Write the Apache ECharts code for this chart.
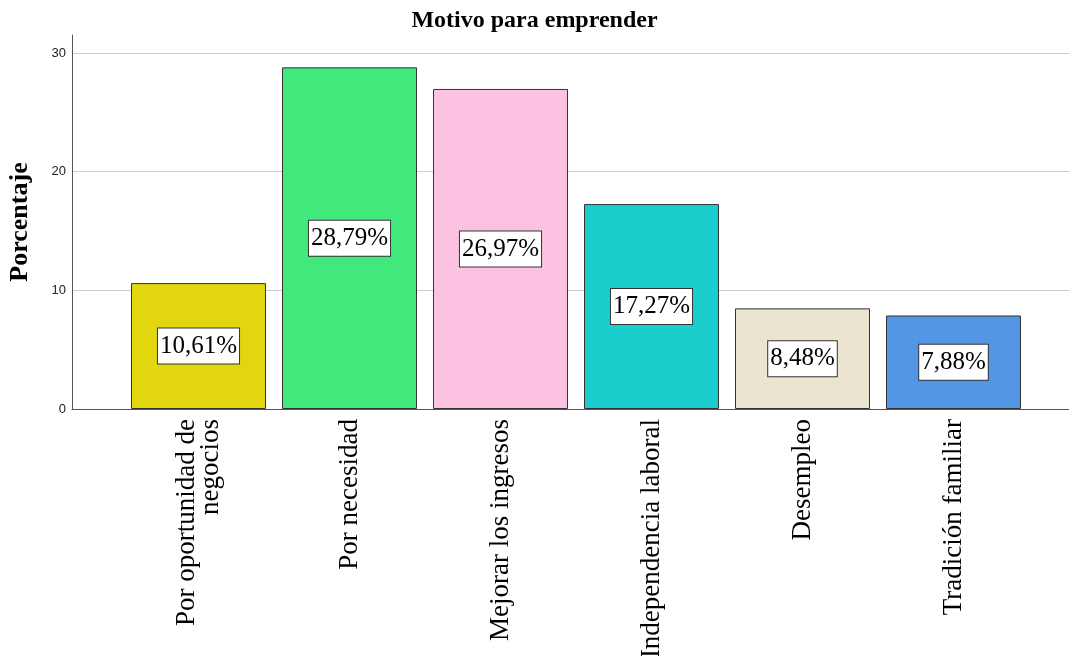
<!DOCTYPE html>
<html>
<head>
<meta charset="utf-8">
<script src="https://cdn.jsdelivr.net/npm/echarts@6/dist/echarts.min.js"></script>
<style>
  html, body { margin: 0; padding: 0; background: #fff; }
  #chart { width: 1069px; height: 656px; }
</style>
</head>
<body>
<div id="chart"></div>
<script>
// datos
const categorias = [
  "Por oportunidad de\nnegocios",
  "Por necesidad",
  "Mejorar los ingresos",
  "Independencia laboral",
  "Desempleo",
  "Tradición familiar"
];
const porcentajes = [10.61, 28.79, 26.97, 17.27, 8.48, 7.88];
const colores = ["#e2d60e", "#41e97d", "#fcc2e1", "#1ccdcd", "#ebe4d0", "#5396e4"];
const ticksY = [0, 10, 20, 30];

const serif = "'Liberation Serif', 'Times New Roman', serif";

var myChart = echarts.init(document.getElementById("chart"));

var option = {
  animation: false,
  backgroundColor: "#ffffff",
  title: {
    text: "Motivo para emprender",
    left: "center",
    top: 4,
    textStyle: {
      fontFamily: serif,
      fontWeight: "bold",
      fontSize: 24,
      color: "#000"
    }
  },
  grid: [
    // solo la linea del eje Y (sube un poco por encima del 30)
    { left: 72, right: 0, top: 35, bottom: 247, outerBoundsMode: "none" },
    // lineas de referencia y etiquetas
    { left: 72, right: 0, top: 53, bottom: 247, outerBoundsMode: "none" },
    // barras
    { left: 123, right: 40, top: 53, bottom: 247, outerBoundsMode: "none" }
  ],
  xAxis: [
    { gridIndex: 0, type: "value", show: false },
    {
      gridIndex: 1,
      type: "value",
      min: 0,
      max: 1,
      axisLine: { show: true, lineStyle: { color: "#555", width: 1 } },
      axisTick: { show: false },
      axisLabel: { show: false },
      splitLine: { show: false }
    },
    {
      gridIndex: 2,
      type: "category",
      data: categorias,
      axisLine: { show: false },
      axisTick: { show: false },
      axisLabel: {
        interval: 0,
        rotate: 90,
        margin: 10,
        fontFamily: serif,
        fontSize: 27,
        lineHeight: 24,
        color: "#000"
      }
    }
  ],
  yAxis: [
    {
      gridIndex: 0,
      type: "value",
      min: 0,
      max: 1,
      name: "Porcentaje",
      nameLocation: "middle",
      nameRotate: 90,
      nameGap: 39,
      nameTextStyle: {
        fontFamily: serif,
        fontWeight: "bold",
        fontSize: 26,
        color: "#000"
      },
      axisLine: { show: true, lineStyle: { color: "#555", width: 1 } },
      axisTick: { show: false },
      axisLabel: { show: false },
      splitLine: { show: false }
    },
    {
      gridIndex: 1,
      type: "value",
      min: ticksY[0],
      max: ticksY[ticksY.length - 1],
      interval: 10,
      axisLine: { show: false },
      axisTick: { show: false },
      axisLabel: {
        margin: 6,
        fontFamily: "'Liberation Sans', Arial, sans-serif",
        fontSize: 13,
        color: "#222"
      },
      splitLine: { show: true, lineStyle: { color: "#cccccc", width: 1 } }
    },
    {
      gridIndex: 2,
      type: "value",
      min: ticksY[0],
      max: ticksY[ticksY.length - 1],
      show: false
    }
  ],
  series: [
    {
      type: "bar",
      xAxisIndex: 2,
      yAxisIndex: 2,
      barCategoryGap: "10.6%",
      data: porcentajes.map(function (v, i) {
        return { value: v, itemStyle: { color: colores[i] } };
      }),
      itemStyle: {
        borderColor: "#333",
        borderWidth: 1
      },
      label: {
        show: true,
        position: "inside",
        formatter: function (p) {
          return p.value.toFixed(2).replace(".", ",") + "%";
        },
        fontFamily: serif,
        fontSize: 25,
        color: "#000",
        backgroundColor: "#fff",
        borderColor: "#333",
        borderWidth: 1,
        padding: [6, 2, 4, 2]
      }
    }
  ]
};

myChart.setOption(option);
</script>
</body>
</html>
